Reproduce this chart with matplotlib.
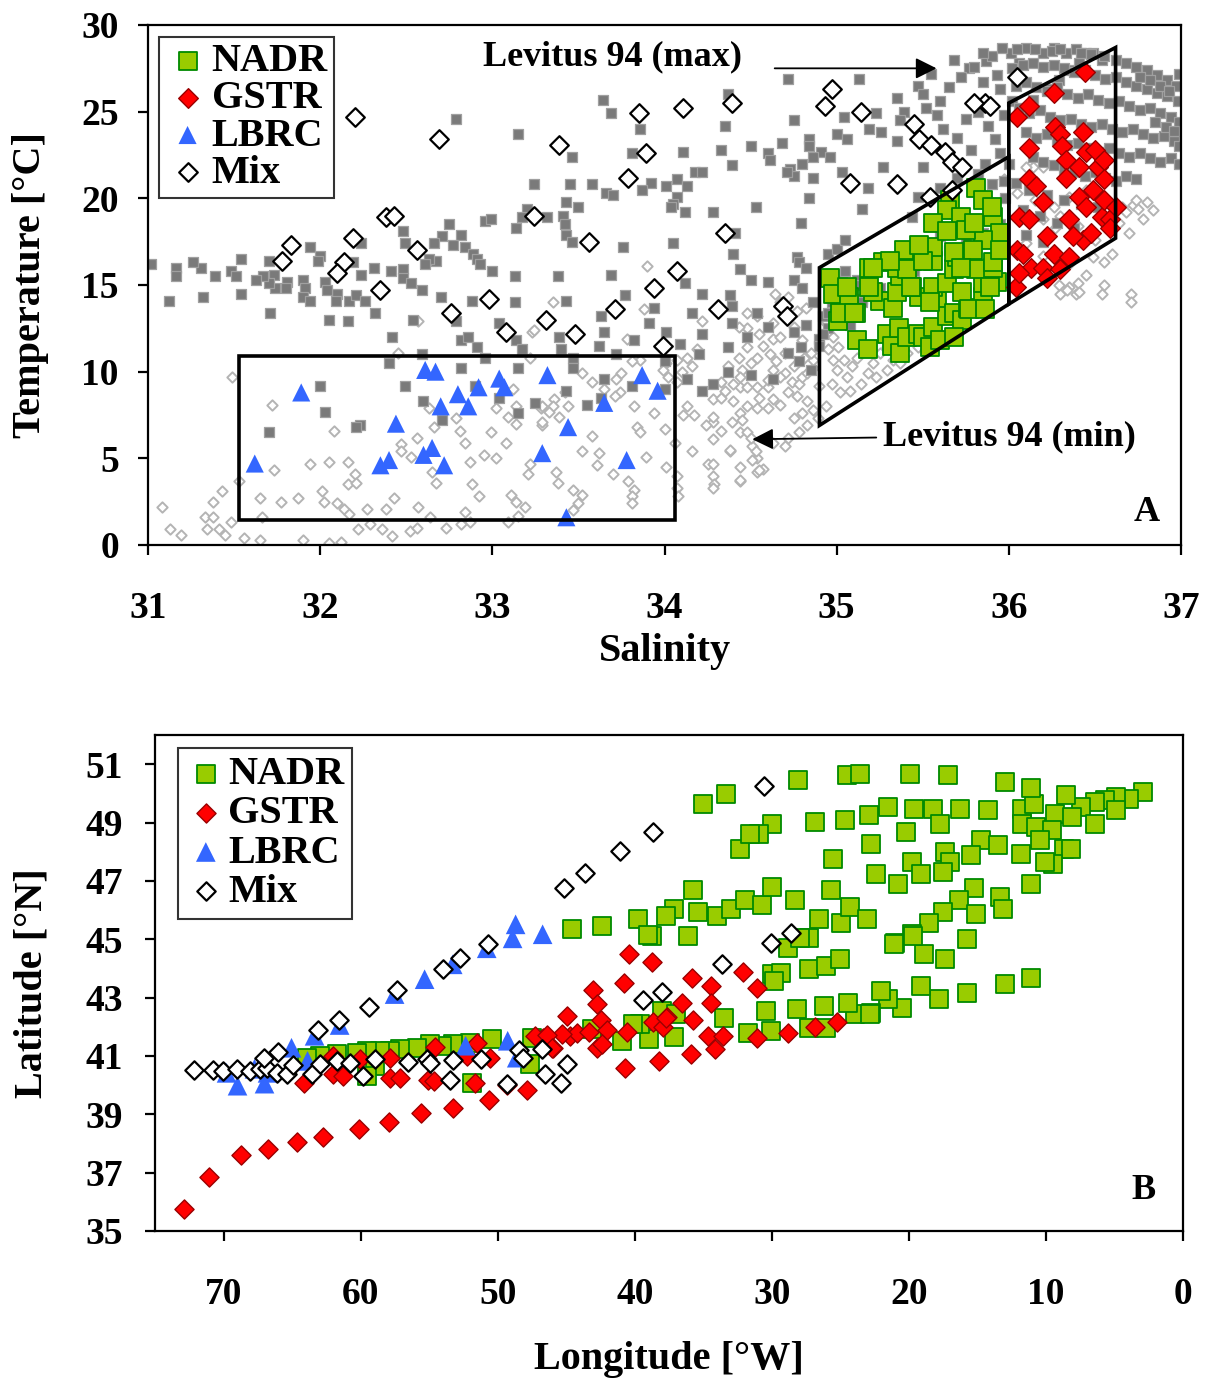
import numpy as np
import matplotlib.pyplot as plt
from matplotlib.patches import Polygon

plt.rcParams['font.family'] = ['Liberation Serif', 'DejaVu Serif']
plt.rcParams['font.weight'] = 'bold'
plt.rcParams['axes.labelweight'] = 'bold'

# ---------------- panel A: T-S diagram ----------------
# Levitus 94 climatology, maximum (dark squares): (salinity, temperature)
levmax_ts = [
    (32.79, 24.6), (33.15, 23.7), (33.24, 20.8), (33.20, 19.4), (33.17, 18.9), (33.14, 18.3),
    (32.96, 18.7), (32.99, 18.8), (32.75, 18.5), (32.71, 17.8), (32.82, 17.9), (32.66, 17.4),
    (32.77, 17.3), (32.84, 17.2), (32.89, 16.8), (32.91, 16.5), (32.93, 16.2), (33.00, 15.8),
    (33.13, 15.5), (32.48, 18.1), (32.49, 17.4), (32.67, 16.4), (32.63, 16.5), (32.61, 16.2),
    (32.48, 15.9), (32.41, 15.8), (32.48, 15.4), (32.53, 15.1), (32.59, 14.7), (32.70, 14.3),
    (32.88, 14.1), (33.13, 14.0), (32.31, 16.0), (32.24, 15.6), (32.24, 17.4), (32.19, 16.3),
    (32.17, 14.1), (32.21, 14.4), (32.26, 14.1), (32.10, 14.5), (32.09, 14.1), (32.03, 15.2),
    (32.04, 14.7), (31.94, 17.2), (32.00, 16.7), (31.99, 16.4), (31.90, 15.3), (31.91, 14.8),
    (31.90, 14.3), (31.94, 14.1), (31.81, 15.2), (31.80, 14.8), (31.74, 14.8), (31.70, 16.4),
    (31.73, 15.6), (31.70, 15.1), (31.67, 15.5), (31.63, 15.3), (31.54, 16.5), (31.48, 15.8),
    (31.51, 15.5), (31.54, 14.5), (31.39, 15.5), (31.32, 14.3), (31.31, 16.0), (31.26, 16.3),
    (31.16, 16.0), (31.16, 15.5), (31.12, 14.1), (31.02, 16.2),
    (31.71, 13.4), (32.05, 13.0), (32.16, 12.9), (32.32, 13.4), (32.42, 12.0), (33.04, 12.8),
    (33.14, 11.8), (33.17, 11.3), (32.82, 11.8), (32.86, 12.0), (32.91, 11.4), (32.96, 10.8),
    (32.79, 12.9), (32.54, 13.0), (32.59, 11.0), (32.40, 10.5), (32.82, 10.2), (33.15, 10.2),
    (32.00, 9.2), (32.49, 9.2), (32.03, 7.7), (32.60, 8.3), (33.25, 8.2), (33.15, 7.6),
    (32.71, 7.2), (32.23, 6.9), (32.21, 6.8), (31.70, 6.5), (32.90, 9.2), (33.04, 8.5),
    (33.64, 25.7), (33.69, 24.9), (33.86, 24.0), (34.37, 26.0), (34.35, 24.2), (34.72, 26.9),
    (35.13, 26.9), (34.75, 24.5), (34.68, 23.2), (34.84, 23.4), (34.84, 23.0), (34.91, 22.7),
    (34.96, 22.4), (34.86, 22.4), (34.80, 22.0), (34.73, 21.7), (34.75, 21.3), (34.71, 21.5),
    (34.86, 21.2), (34.60, 22.6), (34.61, 22.2), (34.50, 23.0), (34.33, 22.8), (34.11, 22.7),
    (33.81, 22.6), (33.46, 22.4), (34.39, 21.9), (34.18, 21.5), (34.22, 21.5), (34.07, 21.1),
    (34.01, 20.7), (33.92, 20.9), (33.87, 20.5), (33.58, 20.8), (33.45, 20.8), (34.13, 20.7),
    (33.66, 20.3), (33.70, 20.2), (34.07, 20.1), (34.05, 19.7), (34.04, 19.5), (33.43, 19.8),
    (33.50, 19.5), (33.32, 18.9), (33.41, 19.0), (33.42, 18.5), (33.43, 17.9), (33.46, 17.5),
    (34.12, 19.2), (34.28, 19.2), (34.53, 19.5), (34.84, 20.0), (34.79, 18.6), (34.41, 18.0),
    (34.05, 17.4), (33.76, 17.2), (34.40, 16.8), (34.77, 16.6), (34.78, 16.3), (34.82, 16.0),
    (34.44, 15.9), (34.50, 15.3), (34.60, 15.2), (34.75, 15.3), (34.12, 15.1), (33.69, 15.6),
    (33.38, 15.5), (33.43, 14.1), (34.22, 14.5), (34.38, 14.4), (34.80, 14.8), (34.95, 16.8),
    (35.00, 17.1), (35.05, 17.6), (35.15, 19.4), (35.23, 24.9), (35.19, 24.0), (35.04, 24.7),
    (35.26, 23.8), (35.35, 25.8), (35.39, 25.0), (35.37, 24.5), (35.47, 26.5), (35.52, 25.2),
    (35.35, 23.3), (35.00, 23.7), (35.06, 23.4), (35.27, 21.8), (35.50, 21.8), (35.03, 21.5),
    (35.18, 20.6), (35.47, 20.1), (35.44, 18.9),
    (33.77, 14.4), (33.94, 13.7), (34.39, 13.8), (34.16, 13.4), (33.63, 13.2), (33.91, 12.8),
    (33.65, 12.3), (34.01, 12.3), (33.39, 12.0), (33.62, 11.5), (33.82, 11.8), (34.09, 11.6),
    (33.40, 11.3), (33.47, 10.8), (33.72, 11.0), (34.00, 10.6), (34.20, 11.0), (34.37, 11.4),
    (34.48, 12.0), (34.22, 12.2), (34.39, 12.8), (34.60, 12.6), (34.75, 12.3), (34.82, 12.7),
    (34.79, 11.4), (34.72, 11.1), (34.78, 10.6), (34.85, 10.1), (34.86, 14.0), (34.54, 13.4),
    (33.47, 10.2), (33.65, 9.6), (33.81, 9.2), (34.00, 9.0), (34.22, 8.9), (34.28, 9.3),
    (34.37, 10.0), (34.50, 9.8), (34.63, 9.6), (34.13, 9.6), (33.43, 8.9), (33.55, 8.1),
    (33.63, 8.5),
    (36.10, 28.7), (36.20, 28.4), (36.26, 28.7), (36.33, 28.4), (36.39, 28.6), (36.45, 28.4),
    (36.49, 28.4), (36.01, 28.4), (36.06, 27.8), (35.87, 27.9), (35.93, 27.1), (35.77, 27.5),
    (35.85, 26.7), (35.95, 26.3), (36.02, 25.6), (36.14, 25.7), (36.22, 26.3), (36.29, 26.8),
    (36.35, 27.4), (36.41, 27.8), (36.54, 28.0),
    (35.65, 26.4), (35.72, 27.0), (35.80, 27.6), (35.90, 28.2), (35.96, 28.7), (35.60, 25.6),
    (35.50, 26.0), (35.58, 24.8), (35.62, 24.0), (35.70, 23.5), (35.75, 24.6), (35.82, 25.0),
    (35.88, 24.2), (35.92, 23.4), (35.78, 22.8), (35.86, 22.0), (35.95, 22.6), (35.70, 21.2),
    (35.82, 21.4), (35.60, 20.6), (35.90, 20.8), (35.97, 24.8), (35.55, 27.2), (35.68, 28.0),
    (35.85, 28.4), (36.00, 22.0), (35.97, 21.0), (35.98, 20.0),
    (36.05, 28.6), (36.15, 28.6), (36.25, 28.5), (36.30, 28.6), (36.42, 28.4), (36.48, 28.3),
    (36.55, 28.2), (36.62, 28.0), (36.68, 27.8), (36.74, 27.6), (36.80, 27.4), (36.86, 27.1),
    (36.92, 26.8), (36.97, 26.5),
    (36.02, 27.5), (36.08, 27.7), (36.14, 27.8), (36.20, 27.6), (36.26, 27.7), (36.32, 27.5),
    (36.38, 27.3), (36.44, 27.4), (36.50, 27.1), (36.56, 26.9), (36.62, 27.0), (36.68, 26.7),
    (36.74, 26.5), (36.80, 26.3), (36.86, 26.1), (36.92, 25.9), (36.98, 25.6),
    (36.04, 26.5), (36.10, 26.7), (36.16, 26.4), (36.22, 26.2), (36.28, 26.4), (36.34, 26.0),
    (36.40, 25.8), (36.46, 26.0), (36.52, 25.7), (36.58, 25.5), (36.64, 25.6), (36.70, 25.3),
    (36.76, 25.1), (36.82, 25.2), (36.88, 24.9), (36.94, 24.7), (36.99, 24.4),
    (36.06, 25.2), (36.12, 24.9), (36.18, 25.1), (36.24, 24.7), (36.30, 24.5), (36.36, 24.6),
    (36.42, 24.3), (36.48, 24.1), (36.54, 24.3), (36.60, 24.0), (36.66, 23.8), (36.72, 24.0),
    (36.78, 23.7), (36.84, 23.5), (36.90, 23.6), (36.96, 23.3),
    (36.10, 23.8), (36.16, 23.5), (36.22, 23.7), (36.28, 23.3), (36.34, 23.1), (36.40, 23.2),
    (36.46, 22.9), (36.52, 22.7), (36.58, 22.9), (36.64, 22.6), (36.70, 22.4), (36.76, 22.6),
    (36.82, 22.3), (36.88, 22.1), (36.94, 22.3), (36.99, 22.0),
    (36.14, 22.4), (36.20, 22.1), (36.26, 21.9), (36.32, 21.7), (36.38, 21.5), (36.44, 21.3),
    (36.50, 21.5), (36.56, 21.2), (36.62, 21.0), (36.68, 21.3), (36.74, 21.1),
    (36.76, 27.0), (36.82, 26.8), (36.88, 26.5), (36.93, 26.2), (36.85, 24.4), (36.91, 24.1),
    (36.96, 23.9), (36.99, 27.2), (36.99, 23.0),
    (36.04, 20.9), (36.12, 20.5), (36.22, 20.2), (36.32, 19.9), (36.42, 19.7), (36.52, 19.5),
    (36.08, 19.3), (36.18, 19.0), (36.28, 18.6), (36.38, 18.3), (36.10, 17.9), (36.20, 17.5),
    (35.02, 14.5), (35.05, 13.7), (35.08, 14.8), (35.12, 15.3), (35.15, 14.2), (35.20, 15.8),
    (35.25, 14.8), (35.30, 16.2), (35.35, 15.2), (35.40, 16.8), (35.45, 15.8), (35.50, 17.3),
    (35.55, 16.5), (35.60, 17.8), (35.65, 17.0), (35.70, 18.3), (35.75, 17.6), (35.80, 18.8),
    (35.85, 18.0), (35.90, 19.2), (35.95, 18.5), (34.92, 13.2), (34.95, 12.5), (34.90, 11.9),
    (35.00, 12.8), (35.05, 15.8), (35.03, 15.2), (35.00, 14.6), (34.97, 14.0), (34.95, 13.4),
    (35.10, 15.0), (35.15, 14.0), (35.08, 12.7), (34.92, 12.2), (34.90, 11.5),
]

# Levitus 94 climatology, minimum (light open diamonds)
levmin_ts = [
    (31.49, 9.7), (31.72, 8.1), (31.73, 4.3), (31.53, 3.7), (31.43, 3.1), (31.38, 2.5),
    (31.08, 2.2), (31.33, 1.6), (31.38, 1.6), (31.48, 1.3), (31.13, 0.9), (31.19, 0.6),
    (31.34, 0.9), (31.41, 0.9), (31.45, 0.6), (31.56, 0.4), (31.65, 2.7), (31.66, 1.6),
    (31.65, 0.3), (31.77, 2.5), (31.87, 2.7), (31.94, 4.7), (32.05, 4.8), (32.16, 4.8),
    (32.08, 6.6), (32.01, 3.1), (32.02, 2.5), (32.10, 2.4), (32.14, 2.1), (32.17, 1.8),
    (32.20, 4.1), (32.16, 3.5), (32.21, 3.6), (32.27, 2.1), (32.38, 2.1), (32.43, 2.7),
    (32.22, 0.9), (32.29, 1.2), (32.36, 0.9), (32.42, 0.5), (32.52, 0.8), (32.56, 1.0),
    (32.57, 2.2), (32.45, 11.1), (32.57, 12.9), (32.56, 6.2), (32.47, 5.8), (32.47, 5.4),
    (32.53, 5.1), (32.66, 6.8), (32.81, 6.6), (32.84, 5.9), (32.79, 7.3), (32.63, 7.9),
    (32.87, 4.8), (32.95, 5.2), (33.02, 5.0), (32.99, 6.5), (33.08, 5.9), (33.09, 7.4),
    (33.14, 7.0), (33.02, 7.9), (33.14, 8.0), (33.12, 9.0), (33.22, 4.7), (33.21, 4.1),
    (32.67, 3.6), (32.65, 4.2), (32.92, 2.8), (32.88, 3.5), (33.11, 2.9), (33.14, 2.5),
    (33.19, 2.2), (33.15, 1.7), (33.09, 1.3), (32.84, 1.9), (32.87, 1.3), (32.82, 1.2),
    (32.73, 1.0), (32.64, 1.6), (33.22, 10.8), (33.23, 12.3), (33.28, 7.9), (33.29, 6.9),
    (33.90, 16.1), (33.24, 12.4), (31.90, 0.3), (32.05, 0.1), (32.12, 0.2),
    (33.35, 14.0), (33.88, 13.6), (34.22, 12.9), (33.78, 11.9), (34.19, 11.3), (34.16, 10.3),
    (34.13, 10.8), (34.07, 10.7), (34.01, 10.5), (33.99, 10.1), (34.02, 9.7), (34.07, 9.4),
    (34.10, 10.0), (33.86, 10.7), (33.81, 10.6), (33.75, 9.9), (33.72, 9.6), (33.74, 8.8),
    (33.71, 8.6), (33.65, 9.0), (33.58, 9.4), (33.52, 9.9), (33.42, 8.8), (33.36, 8.4),
    (33.35, 8.0), (33.33, 7.7), (33.29, 8.0), (33.29, 7.1), (33.39, 7.4), (33.44, 8.0),
    (33.82, 8.0), (33.94, 7.6), (34.00, 6.7), (33.84, 6.8), (33.86, 6.5), (33.58, 6.3),
    (33.52, 5.4), (33.62, 5.3), (33.61, 4.6), (33.70, 4.1), (33.79, 3.7), (33.82, 3.2),
    (33.81, 2.8), (33.81, 2.4), (33.52, 2.9), (33.47, 3.2), (33.50, 2.4), (33.47, 2.0),
    (33.37, 4.2), (33.38, 3.6), (33.89, 5.1), (34.01, 4.5), (34.06, 5.9), (34.07, 4.0),
    (34.07, 3.3), (34.08, 2.8), (34.16, 5.4), (34.25, 4.7), (34.28, 4.0), (34.29, 3.5),
    (34.38, 5.4), (34.44, 4.5), (34.44, 3.7), (34.33, 6.6), (34.39, 7.1), (34.28, 7.1),
    (34.24, 6.9), (34.17, 7.5), (34.11, 7.5), (34.13, 8.0), (34.28, 8.4), (34.33, 8.5),
    (34.44, 9.1), (34.33, 9.4), (34.40, 8.3), (34.44, 7.6), (34.48, 8.0), (34.55, 8.5),
    (34.60, 9.1), (34.63, 8.4), (34.67, 8.1), (34.60, 7.9), (34.54, 7.9), (34.45, 7.2),
    (34.44, 6.5), (34.48, 6.5), (34.51, 5.7), (34.54, 5.0), (34.57, 4.4), (34.54, 4.2),
    (34.53, 5.4), (34.50, 6.2), (34.63, 5.9), (34.70, 5.7), (34.72, 6.2), (34.78, 6.5),
    (34.83, 6.9), (34.80, 7.6), (34.75, 7.3), (34.89, 7.3), (34.86, 7.8), (34.83, 8.3),
    (34.77, 8.6), (34.72, 8.8), (34.74, 9.4), (34.78, 9.3), (34.80, 9.7), (34.83, 9.9),
    (34.86, 10.2), (34.86, 10.7), (34.85, 11.1), (34.81, 10.8), (34.75, 10.3), (34.70, 9.9),
    (34.67, 9.7), (34.63, 10.1), (34.60, 9.5), (34.54, 9.1), (34.48, 9.1), (34.65, 10.6),
    (34.61, 11.0), (34.54, 10.8), (34.50, 10.5), (34.45, 10.1), (34.44, 9.7), (34.40, 9.3),
    (34.35, 8.9), (34.37, 10.3), (34.43, 10.8), (34.48, 11.4), (34.57, 11.5), (34.63, 11.9),
    (34.67, 12.0), (34.70, 11.1), (34.55, 12.2), (34.48, 12.5), (34.43, 12.6), (34.54, 13.2),
    (34.48, 13.4), (34.63, 12.8), (34.71, 13.2), (34.77, 13.5), (34.82, 13.7), (34.80, 11.8),
    (34.75, 12.6), (34.67, 14.0), (34.72, 14.3), (34.64, 14.5),
    (34.28, 7.4), (34.28, 6.1), (34.38, 5.5), (34.28, 4.7), (34.28, 3.3), (34.44, 3.75),
    (34.51, 4.9), (34.55, 4.3),
    (34.94, 8.0), (35.02, 8.8), (34.97, 9.3), (35.08, 8.9), (35.14, 9.3), (35.06, 9.7),
    (35.00, 10.1), (35.09, 10.3), (35.18, 9.9), (35.23, 9.7), (35.29, 10.1), (35.21, 10.5),
    (35.12, 10.8), (35.04, 10.7), (34.98, 10.7), (34.95, 11.3), (35.01, 11.4), (34.98, 12.0),
    (34.94, 12.8), (35.18, 11.3), (35.25, 11.1), (35.33, 10.7), (35.37, 10.5), (35.41, 11.1),
    (35.47, 11.4), (35.29, 11.4), (34.90, 9.2),
    (36.14, 21.8), (36.10, 21.8), (36.20, 21.8), (35.97, 21.1), (36.26, 19.5), (36.35, 20.1),
    (36.45, 20.5), (36.58, 19.7), (36.66, 19.5), (36.72, 19.6), (36.75, 19.4), (36.68, 19.2),
    (36.74, 19.9), (36.27, 18.3), (36.20, 18.8), (36.24, 17.8), (36.35, 14.9), (36.39, 14.5),
    (36.30, 14.5), (36.54, 14.5), (36.71, 14.5), (36.71, 14.0), (36.29, 15.0), (36.34, 14.7),
    (36.40, 15.1), (36.41, 14.6), (36.49, 16.6), (36.55, 16.3), (36.64, 18.6), (36.70, 18.0),
    (36.78, 18.8), (36.84, 19.3), (36.80, 19.8), (36.05, 20.3), (36.15, 19.9), (36.30, 19.0),
    (36.40, 18.4), (36.50, 17.6), (36.10, 17.4), (36.20, 16.7), (36.35, 16.2), (36.45, 15.6),
    (36.55, 15.0), (36.60, 16.8),
]

nadr_ts = [
    (34.96, 15.4), (34.98, 14.5), (35.07, 14.3), (35.11, 13.4), (35.01, 12.9), (35.12, 11.8),
    (35.18, 11.3), (35.19, 16.0), (35.25, 14.1), (35.33, 13.7), (35.35, 14.6), (35.29, 12.2),
    (35.32, 11.5), (35.37, 11.1), (35.36, 12.5), (35.41, 12.0), (35.47, 12.2), (35.50, 12.0),
    (35.56, 12.6), (35.58, 14.1), (35.64, 13.2), (35.68, 13.4), (35.73, 13.0), (35.76, 13.7),
    (35.85, 14.3), (35.85, 15.1), (35.93, 15.2), (35.48, 14.3), (35.44, 14.9), (35.56, 14.9),
    (35.64, 15.1), (35.73, 14.6), (35.81, 15.9), (35.91, 16.0), (35.37, 15.5), (35.44, 16.4),
    (35.56, 16.4), (35.68, 15.9), (35.70, 16.6), (35.54, 11.4), (35.60, 11.8), (35.68, 12.0),
    (35.27, 16.3), (35.35, 16.0), (35.41, 15.9), (35.21, 14.6), (35.81, 20.6), (35.85, 19.9),
    (35.66, 19.9), (35.64, 19.3), (35.72, 18.9), (35.56, 18.6), (35.91, 18.9), (35.95, 18.0),
    (35.85, 17.6), (35.79, 17.0), (35.68, 16.9), (35.56, 17.2), (35.50, 16.4), (35.39, 17.0),
    (35.31, 16.4), (35.21, 16.0), (35.19, 14.9), (35.06, 14.9), (35.02, 13.4), (35.10, 13.4),
    (35.43, 14.9), (35.54, 14.0), (35.77, 13.6), (35.89, 14.9), (35.72, 16.0), (35.91, 16.3),
    (35.64, 18.1), (35.75, 18.2), (35.48, 17.3), (35.86, 13.6), (35.95, 17.0), (35.90, 19.5),
    (35.80, 18.6),
]

gstr_ts = [
    (36.44, 27.3), (36.26, 26.1), (36.12, 25.3), (36.05, 24.7), (36.27, 24.1), (36.30, 23.7),
    (36.43, 23.8), (36.12, 22.9), (36.31, 23.0), (36.45, 22.7), (36.50, 22.8), (36.33, 22.2),
    (36.41, 21.8), (36.52, 21.8), (36.55, 22.2), (36.12, 21.1), (36.16, 20.7), (36.33, 21.2),
    (36.55, 21.1), (36.41, 20.1), (36.49, 20.5), (36.20, 19.8), (36.06, 18.9), (36.12, 18.8),
    (36.35, 18.8), (36.45, 19.5), (36.54, 18.9), (36.59, 18.8), (36.55, 19.9), (36.22, 17.8),
    (36.43, 17.6), (36.48, 18.0), (36.05, 17.0), (36.08, 16.8), (36.13, 16.0), (36.26, 16.8),
    (36.35, 16.6), (36.20, 16.0), (36.04, 14.9), (36.06, 15.7), (36.59, 18.3), (36.37, 17.8),
    (36.62, 19.5), (36.22, 15.4), (36.30, 15.9),
]

lbrc_ts = [
    (31.62, 4.7), (31.89, 8.8), (32.44, 7.0), (32.35, 4.6), (32.40, 4.9), (32.61, 10.1),
    (32.67, 10.0), (32.80, 8.7), (32.70, 8.0), (32.86, 8.0), (32.92, 9.1), (33.04, 9.6),
    (33.07, 9.1), (32.60, 5.2), (32.65, 5.6), (32.72, 4.6), (33.32, 9.8), (33.29, 5.3),
    (33.65, 8.2), (33.87, 9.8), (33.96, 8.9), (33.44, 6.8), (33.78, 4.9), (33.43, 1.6),
]

mix_ts = [
    (32.20, 24.7), (32.69, 23.4), (32.38, 18.9), (32.43, 19.0), (33.24, 19.0), (31.83, 17.3),
    (31.78, 16.4), (32.19, 17.7), (32.14, 16.3), (32.10, 15.7), (32.56, 17.0), (32.35, 14.7),
    (32.98, 14.2), (32.76, 13.4), (34.39, 25.5), (34.11, 25.2), (33.85, 24.9), (33.39, 23.1),
    (33.89, 22.6), (33.79, 21.2), (33.56, 17.5), (34.35, 18.0), (34.07, 15.8), (33.94, 14.8),
    (34.97, 26.3), (34.93, 25.3), (35.14, 25.0), (35.45, 24.3), (35.48, 23.4), (35.55, 23.1),
    (35.63, 22.7), (35.67, 22.1), (35.73, 21.8), (35.08, 20.9), (35.35, 20.8), (35.54, 20.1),
    (35.67, 20.5), (36.05, 27.0), (35.86, 25.5), (35.89, 25.3), (35.80, 25.5), (34.69, 13.8),
    (34.71, 13.2), (33.71, 13.6), (34.31, 13.6), (33.99, 11.5), (33.48, 12.2), (33.31, 13.0),
    (33.08, 12.3),
]

# province boxes in T-S space
lbrc_box = [(31.53, 1.45), (34.06, 1.45), (34.06, 10.9), (31.53, 10.9)]
nadr_box = [(34.90, 6.9), (34.90, 16.0), (36.00, 22.4), (36.00, 13.9)]
gstr_box = [(36.00, 13.9), (36.00, 25.5), (36.62, 28.7), (36.62, 17.7)]

# ---------------- panel B: station positions (lon degW, lat degN) ----------------
nadr_pos = [
    (2.92, 50.05), (3.94, 49.81), (4.89, 49.88), (5.69, 49.77), (6.42, 49.70), (7.45, 49.53),
    (8.54, 49.94), (9.34, 49.30), (11.75, 49.47), (10.88, 49.64), (11.75, 48.95), (10.73, 48.85),
    (9.56, 48.75), (10.44, 48.41), (8.69, 48.10), (8.18, 48.10), (9.49, 47.59), (10.07, 47.66),
    (6.42, 48.95), (4.89, 49.43), (11.82, 47.93), (11.09, 46.91), (12.99, 50.39), (11.09, 50.18),
    (14.23, 49.43), (14.74, 48.41), (13.50, 48.24), (15.47, 47.90), (16.28, 49.47), (18.25, 49.47),
    (19.64, 49.47), (17.74, 48.95), (20.22, 48.68), (21.53, 49.53), (22.92, 49.26), (22.77, 48.27),
    (24.67, 49.09), (26.86, 49.02), (30.00, 48.95), (30.95, 48.61), (32.34, 48.10), (25.55, 47.76),
    (22.41, 47.25), (20.80, 46.91), (19.78, 47.66), (19.12, 47.25), (17.37, 48.00), (17.01, 47.66),
    (17.52, 47.32), (15.26, 46.74), (16.35, 46.36), (13.36, 46.46), (13.14, 46.05), (15.11, 45.85),
    (15.77, 45.00), (17.52, 45.95), (18.54, 45.54), (19.78, 45.17), (21.02, 44.86), (18.91, 44.48),
    (17.37, 44.31), (11.09, 43.67), (12.99, 43.46), (15.77, 43.15), (17.81, 42.95), (19.12, 43.39),
    (20.51, 42.64), (21.53, 42.95), (22.04, 43.22), (22.77, 42.47), (23.94, 42.44), (24.45, 42.81),
    (26.20, 42.71), (28.18, 42.61), (30.44, 42.54), (33.50, 42.30), (31.75, 41.79), (30.07, 41.86),
    (27.30, 41.96), (26.06, 41.96), (35.04, 49.64), (33.36, 49.98), (28.10, 50.46), (24.53, 50.63),
    (23.58, 50.66), (19.93, 50.66), (17.15, 50.63), (31.61, 48.61), (35.77, 46.70), (37.15, 46.02),
    (37.74, 45.78), (35.40, 45.95), (34.01, 45.78), (32.99, 46.05), (31.97, 46.36), (30.73, 46.19),
    (30.00, 46.80), (28.32, 46.36), (26.57, 45.68), (27.30, 45.03), (28.83, 44.69), (24.96, 45.54),
    (24.31, 46.12), (25.69, 46.70), (23.07, 45.71), (36.13, 45.10), (38.76, 45.10), (30.00, 43.80),
    (29.34, 43.84), (27.30, 43.97), (26.06, 44.08), (25.04, 44.31), (27.96, 45.03), (44.60, 45.34),
    (42.41, 45.47), (39.78, 45.68), (39.05, 45.13), (21.09, 44.83), (19.71, 45.10), (29.85, 43.56),
    (22.85, 42.44), (37.15, 41.65), (38.03, 42.54), (37.01, 42.44), (38.98, 41.58), (39.64, 42.10),
    (40.15, 42.10), (40.95, 41.52), (43.14, 41.93), (47.52, 41.62), (47.66, 40.73), (50.44, 41.58),
    (52.04, 41.45), (53.28, 41.41), (54.09, 41.35), (54.96, 41.41), (55.91, 41.28), (57.15, 41.24),
    (57.88, 41.18), (58.61, 41.18), (59.56, 41.18), (60.29, 41.11), (61.75, 41.07), (62.99, 41.00),
    (63.94, 40.94), (58.98, 40.66), (59.56, 40.32), (51.90, 40.08), (8.10, 49.19),
]

gstr_pos = [
    (72.85, 35.75), (71.09, 36.84), (68.76, 37.59), (66.72, 37.80), (64.67, 38.04), (62.77, 38.21),
    (60.15, 38.51), (57.96, 38.72), (55.62, 39.03), (53.28, 39.23), (50.66, 39.50), (47.88, 39.84),
    (49.34, 40.02), (51.68, 40.08), (64.16, 40.08), (62.04, 40.39), (61.31, 40.32), (57.88, 40.25),
    (57.15, 40.25), (55.11, 40.19), (54.67, 40.15), (52.26, 41.00), (51.53, 41.45), (50.58, 40.94),
    (54.60, 41.31), (57.88, 40.94), (60.07, 40.90), (62.04, 41.00), (44.96, 42.37), (46.72, 41.62),
    (45.99, 41.28), (44.74, 41.69), (44.23, 41.79), (47.30, 41.69), (40.44, 44.48), (38.76, 44.21),
    (40.80, 43.50), (43.07, 43.26), (42.77, 42.78), (42.48, 42.23), (42.04, 41.89), (43.36, 41.82),
    (45.33, 41.76), (46.42, 41.72), (46.06, 41.28), (42.77, 41.28), (42.41, 41.41), (40.58, 41.82),
    (40.73, 40.60), (38.25, 40.83), (35.91, 41.07), (38.69, 42.16), (37.66, 42.34), (37.96, 41.99),
    (36.57, 42.81), (35.77, 42.23), (35.84, 43.67), (34.45, 43.39), (34.45, 42.81), (34.67, 41.69),
    (33.58, 41.69), (34.16, 41.24), (32.12, 43.87), (31.09, 43.32), (31.09, 41.62), (28.83, 41.79),
    (26.86, 41.99), (25.26, 42.16), (37.74, 42.30),
]

lbrc_pos = [
    (48.69, 45.51), (48.91, 45.03), (46.72, 45.17), (50.80, 44.69), (53.28, 44.14), (55.33, 43.63),
    (57.52, 43.12), (61.53, 42.06), (63.36, 41.69), (65.04, 41.28), (63.87, 40.83), (67.01, 40.05),
    (68.98, 39.98), (69.78, 40.42), (67.74, 40.56), (66.79, 40.42), (49.27, 41.52), (52.34, 41.35),
    (48.61, 40.94),
]

mix_pos = [
    (30.58, 50.25), (38.69, 48.68), (41.09, 48.03), (43.65, 47.28), (45.18, 46.77), (50.73, 44.83),
    (52.77, 44.35), (54.01, 43.97), (57.37, 43.26), (59.42, 42.68), (61.61, 42.23), (63.14, 41.89),
    (28.61, 45.20), (30.07, 44.86), (33.65, 44.14), (38.03, 43.19), (39.42, 42.92), (48.47, 41.21),
    (46.79, 41.24), (44.96, 40.73), (46.57, 40.39), (45.40, 40.08), (49.34, 40.05), (48.18, 40.94),
    (72.19, 40.53), (70.80, 40.53), (70.07, 40.49), (69.05, 40.56), (68.10, 40.49), (67.37, 40.56),
    (66.86, 40.60), (67.08, 40.94), (66.06, 41.14), (66.13, 40.42), (65.40, 40.39), (64.96, 40.70),
    (63.58, 40.39), (62.99, 40.73), (61.75, 40.83), (60.80, 40.77), (59.85, 40.32), (58.98, 40.90),
    (56.57, 40.80), (55.18, 40.90), (54.96, 40.77), (53.50, 40.19), (53.28, 40.87), (51.24, 40.90),
]

W, H = 1205, 1378
fig = plt.figure(figsize=(W / 100, H / 100), dpi=100)
ax1 = fig.add_axes([148 / W, 1 - 545 / H, (1181 - 148) / W, 520 / H])
ax2 = fig.add_axes([155 / W, 1 - 1231 / H, (1183 - 155) / W, 496 / H])


def xy(pairs):
    a = np.array(pairs)
    return a[:, 0], a[:, 1]


# --- panel A ---
ax1.scatter(*xy(levmin_ts), marker='D', s=28, facecolor='white', edgecolor='#b4b4b4',
            linewidth=1.4, zorder=1)
ax1.scatter(*xy(levmax_ts), marker='s', s=50, facecolor='#7a7a7a', edgecolor='#a0a0a0',
            linewidth=0.9, zorder=2)
h_nadr = ax1.scatter(*xy(nadr_ts), marker='s', s=150, facecolor='#99cc00', edgecolor='#008a00',
                     linewidth=1.3, zorder=3, label='NADR')
h_gstr = ax1.scatter(*xy(gstr_ts), marker='D', s=100, facecolor='#ff0000', edgecolor='#9a0000',
                     linewidth=1.0, zorder=4, label='GSTR')
h_lbrc = ax1.scatter(*xy(lbrc_ts), marker='^', s=170, facecolor='#3366ff', edgecolor='none',
                     zorder=5, label='LBRC')
h_mix = ax1.scatter(*xy(mix_ts), marker='D', s=90, facecolor='white', edgecolor='black',
                    linewidth=1.6, zorder=6, label='Mix')

for box in (lbrc_box, nadr_box, gstr_box):
    ax1.add_patch(Polygon(box, closed=True, fill=False, edgecolor='black', linewidth=2.6,
                          joinstyle='miter', zorder=8))

ax1.text(33.70, 28.15, 'Levitus 94 (max)', fontsize=26, ha='center', va='center', zorder=9)
ax1.annotate('', xy=(35.58, 27.5), xytext=(34.64, 27.5),
             arrowprops=dict(arrowstyle='-|>', color='black', lw=1.3, mutation_scale=32,
                             shrinkA=0, shrinkB=0), zorder=9)
ax1.text(35.27, 6.23, 'Levitus 94 (min)', fontsize=26, ha='left', va='center', zorder=9)
ax1.annotate('', xy=(34.51, 6.1), xytext=(35.23, 6.2),
             arrowprops=dict(arrowstyle='-|>', color='black', lw=1.3, mutation_scale=32,
                             shrinkA=0, shrinkB=0), zorder=9)
ax1.text(36.80, 1.85, 'A', fontsize=26, ha='center', va='center')

ax1.set_xlim(31, 37)
ax1.set_ylim(0, 30)
ax1.set_xticks(range(31, 38))
ax1.set_yticks(range(0, 31, 5))
ax1.set_xlabel('Salinity', fontsize=29, labelpad=5)
ax1.set_ylabel('Temperature [°C]', fontsize=29, labelpad=23)
ax1.tick_params(axis='x', pad=26)
ax1.tick_params(axis='y', pad=14)

leg1 = ax1.legend(handles=[h_nadr, h_gstr, h_lbrc, h_mix], loc='upper left',
                  bbox_to_anchor=(0.011, 0.977), fontsize=29, frameon=True, fancybox=False,
                  edgecolor='black', borderpad=0.15, labelspacing=0.0, handlelength=1.1,
                  handletextpad=0.05, borderaxespad=0)
leg1.get_frame().set_linewidth(1.5)

# --- panel B ---
ax2.scatter(*xy(nadr_pos), marker='s', s=150, facecolor='#99cc00', edgecolor='#008a00',
            linewidth=1.3, zorder=3, label='NADR')
ax2.scatter(*xy(gstr_pos), marker='D', s=95, facecolor='#ff0000', edgecolor='#9a0000',
            linewidth=1.0, zorder=4, label='GSTR')
ax2.scatter(*xy(lbrc_pos), marker='^', s=200, facecolor='#3366ff', edgecolor='none',
            zorder=5, label='LBRC')
ax2.scatter(*xy(mix_pos), marker='D', s=88, facecolor='white', edgecolor='black',
            linewidth=1.6, zorder=6, label='Mix')
ax2.text(2.9, 36.4, 'B', fontsize=26, ha='center', va='center')

ax2.set_xlim(75, 0)
ax2.set_ylim(35, 52)
ax2.set_xticks(range(70, -1, -10))
ax2.set_yticks(range(35, 52, 2))
ax2.set_xlabel('Longitude [°W]', fontsize=29, labelpad=21)
ax2.set_ylabel('Latitude [°N]', fontsize=29, labelpad=25)
ax2.tick_params(axis='x', pad=26)
ax2.tick_params(axis='y', pad=16)

leg2 = ax2.legend(loc='upper left', bbox_to_anchor=(0.022, 0.974), fontsize=29, frameon=True,
                  fancybox=False, edgecolor='black', borderpad=0.2, labelspacing=0.05,
                  handlelength=1.0, handletextpad=0.05, borderaxespad=0)
leg2.get_frame().set_linewidth(1.5)

for ax in (ax1, ax2):
    for sp in ax.spines.values():
        sp.set_linewidth(1.6)
    ax.tick_params(direction='out', length=7, width=1.6, labelsize=27)
    for lab in ax.get_xticklabels() + ax.get_yticklabels():
        lab.set_fontweight('bold')

fig.savefig('out.png', dpi=100)
